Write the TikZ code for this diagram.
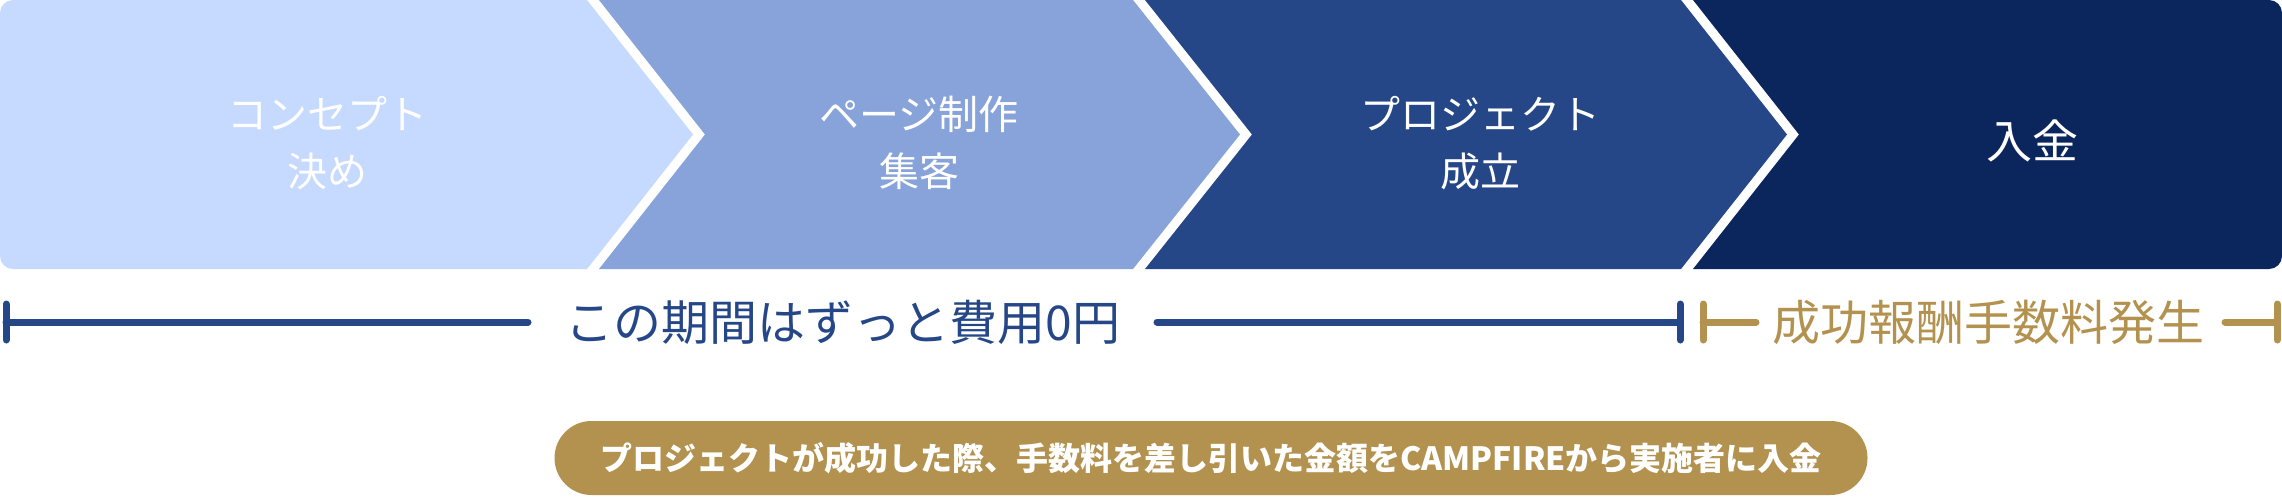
\documentclass[tikz,border=0pt]{standalone}
\usepackage{fontspec}
\newfontfamily\cjk{Noto Sans CJK JP}
\definecolor{cA}{HTML}{C6D9FE}
\definecolor{cB}{HTML}{87A3DA}
\definecolor{cC}{HTML}{254788}
\definecolor{cD}{HTML}{0B255D}
\definecolor{gold}{HTML}{B3924F}
\begin{document}
\begin{tikzpicture}[x=1pt,y=1pt,
  steptext/.style={text=white, align=center, inner sep=0pt, font=\cjk\fontsize{40}{57}\selectfont},
  spantext/.style={inner sep=0pt, font=\cjk\fontsize{48}{56}\selectfont},
  bluebar/.style={draw=cC, line width=7pt, line cap=round},
  goldbar/.style={draw=gold, line width=7pt, line cap=round},
  pill/.style={fill=gold, rounded corners=37pt, minimum width=1313pt, minimum height=74pt, inner sep=0pt,
    text=white, font=\cjk\bfseries\fontsize{32}{36}\selectfont}]
\useasboundingbox (0,0) rectangle (2282,-496);
% chevrons
\fill[cA] (587,0) -- (13,0) arc[start angle=90, end angle=180, radius=13] -- (0,-256)
  arc[start angle=180, end angle=270, radius=13] -- (587,-269) -- (693,-134.5) -- cycle;
\fill[cB] (599,0) -- (1133,0) -- (1240,-134.5) -- (1133,-269) -- (599,-269) -- (705,-134.5) -- cycle;
\fill[cC] (1145,0) -- (1681,0) -- (1787,-134.5) -- (1681,-269) -- (1145,-269) -- (1252,-134.5) -- cycle;
\fill[cD] (1693,0) -- (2269,0) arc[start angle=90, end angle=0, radius=13] -- (2282,-256)
  arc[start angle=0, end angle=-90, radius=13] -- (1693,-269) -- (1799,-134.5) -- cycle;
% step labels
\node[steptext] (s1) at (327,-143) {コンセプト\\決め};
\node[steptext] (s2) at (919,-143) {ページ制作\\集客};
\node[steptext] (s3) at (1480,-143) {プロジェクト\\成立};
\node[steptext, font=\cjk\fontsize{46}{56}\selectfont] (s4) at (2032,-141) {入金};
% span labels
\node[spantext, text=cC] (free) at (843,-322) {この期間はずっと費用0円};
\node[spantext, text=gold] (fee) at (1988,-322) {成功報酬手数料発生};
% bracket coordinates
\coordinate (bL) at (6,-322);
\coordinate (bLa) at (528,-322);
\coordinate (bRa) at (1157,-322);
\coordinate (bR) at (1680,-322);
\coordinate (gL) at (1703,-322);
\coordinate (gLa) at (1756,-322);
\coordinate (gRa) at (2225,-322);
\coordinate (gR) at (2277,-322);
\draw[bluebar] ([yshift=18pt]bL) -- ([yshift=-18pt]bL);
\draw[bluebar] (bL) -- (bLa);
\draw[bluebar] (bRa) -- (bR);
\draw[bluebar] ([yshift=18pt]bR) -- ([yshift=-18pt]bR);
\draw[goldbar] ([yshift=18pt]gL) -- ([yshift=-18pt]gL);
\draw[goldbar] (gL) -- (gLa);
\draw[goldbar] (gRa) -- (gR);
\draw[goldbar] ([yshift=18pt]gR) -- ([yshift=-18pt]gR);
% note pill
\node[pill] (note) at (1211,-458) {プロジェクトが成功した際、手数料を差し引いた金額をCAMPFIREから実施者に入金};
\end{tikzpicture}
\end{document}
